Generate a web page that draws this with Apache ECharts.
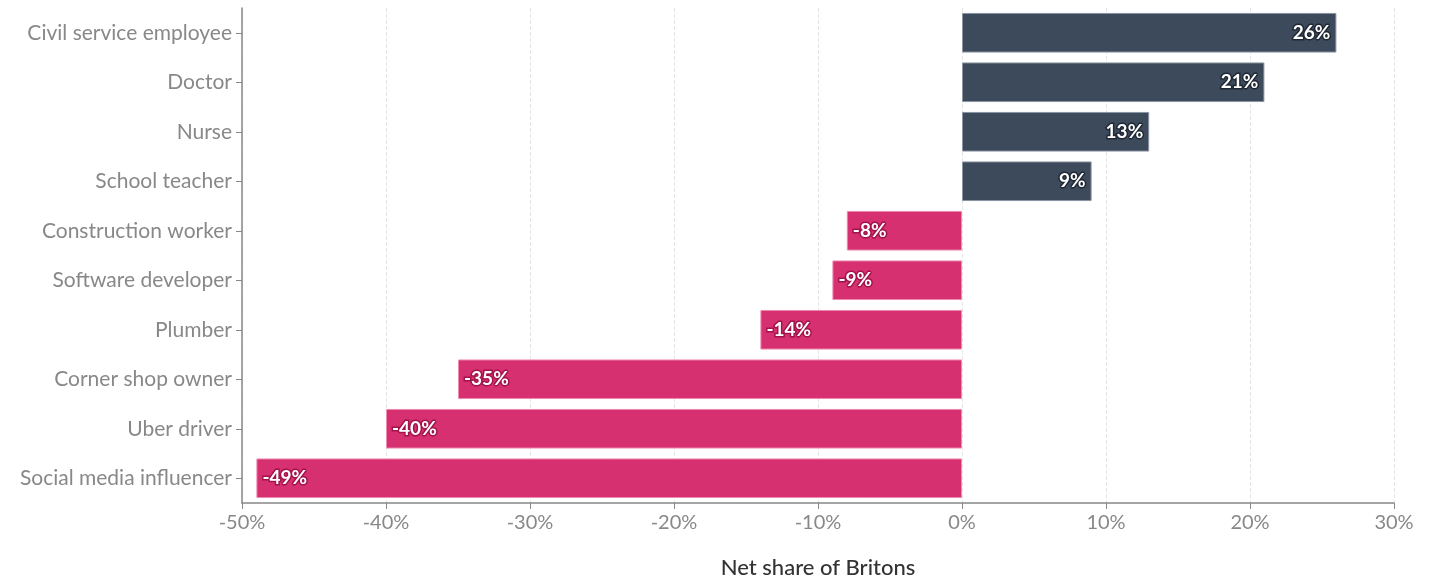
<!DOCTYPE html>
<html>
<head>
<meta charset="utf-8">
<script src="https://cdn.jsdelivr.net/npm/echarts@6/dist/echarts.min.js"></script>
<style>
    html, body {margin: 0; padding: 0; background: #fff;}
    #chart {width: 1430px; height: 578px;}
</style>
</head>
<body>
<div id="chart"></div>
<script>
    // top to bottom as drawn
    const jobs = ['Civil service employee', 'Doctor', 'Nurse', 'School teacher', 'Construction worker',
        'Software developer', 'Plumber', 'Corner shop owner', 'Uber driver', 'Social media influencer'];
    const netShare = [26, 21, 13, 9, -8, -9, -14, -35, -40, -49];

    const font = 'Lato, "Noto Sans", sans-serif';
    const myChart = echarts.init(document.getElementById('chart'));

    myChart.setOption({
        animation: false,
        textStyle: {fontFamily: font},
        grid: {left: 242, right: 36, top: 8, bottom: 75, containLabel: false, outerBoundsMode: 'none'},
        xAxis: {
            type: 'value',
            min: -50,
            max: 30,
            interval: 10,
            name: 'Net share of Britons',
            nameLocation: 'middle',
            nameGap: 54,
            nameTextStyle: {fontSize: 22, color: '#333', fontWeight: 500, fontFamily: font},
            axisLine: {show: true, lineStyle: {color: '#888', width: 1.5}},
            axisTick: {show: true, length: 6, lineStyle: {color: '#888'}},
            axisLabel: {fontSize: 20, color: '#888', margin: 10, formatter: '{value}%'},
            splitLine: {show: true, lineStyle: {color: '#e6e6e6', type: 'dashed'}}
        },
        yAxis: {
            type: 'category',
            inverse: true,
            data: jobs,
            axisLine: {show: true, onZero: false, lineStyle: {color: '#888', width: 1.5}},
            axisTick: {show: true, alignWithLabel: true, length: 6, lineStyle: {color: '#888'}},
            axisLabel: {fontSize: 21, color: '#888', margin: 10},
            splitLine: {show: false}
        },
        series: [{
            type: 'bar',
            barCategoryGap: '20%',
            data: netShare.map(v => ({
                value: v,
                itemStyle: {
                    color: v >= 0 ? '#3d4a5c' : '#d63070',
                    borderColor: v >= 0 ? '#8a94a3' : '#f08ab0',
                    borderWidth: 1
                },
                label: {
                    position: v >= 0 ? 'insideRight' : 'insideLeft',
                    textBorderColor: v >= 0 ? '#1e2733' : '#a3124a'
                }
            })),
            label: {
                show: true,
                formatter: p => p.value + '%',
                fontSize: 19,
                fontWeight: 'bold',
                color: '#fff',
                textBorderWidth: 3,
                distance: 6
            }
        }]
    });
</script>
</body>
</html>
